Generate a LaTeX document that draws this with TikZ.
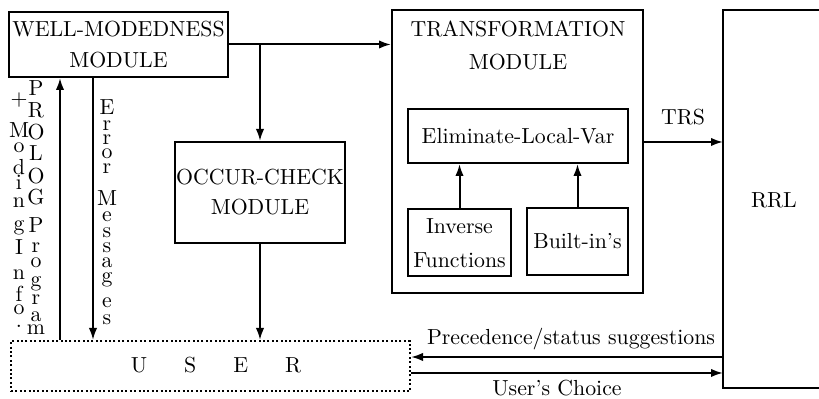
\documentclass[tikz,border=0pt]{standalone}
\usetikzlibrary{arrows.meta}
\begin{document}
\begin{tikzpicture}[x=0.5pt,y=-0.5pt,
  every node/.style={font=\fontsize{10.9}{13}\selectfont},
  box/.style={draw, line width=1pt, inner sep=0pt, align=center},
  ln/.style={line width=1pt},
  arr/.style={line width=1pt, -{Latex[length=6pt,width=4.2pt]}},
  letter/.style={anchor=base, inner sep=0pt},
  userbox/.style={draw, line width=1pt, dash pattern=on 1pt off 1.2pt, inner sep=0pt}]
\useasboundingbox (0,0) rectangle (819,399);

% boxes
\node[box, minimum width=109.5pt, minimum height=32.5pt,
      font=\fontsize{10.9}{15.5}\selectfont] (wm) at (118.5,44.5) {WELL-MODEDNESS\\MODULE};
\node[box, minimum width=85pt, minimum height=50.5pt,
      font=\fontsize{10.9}{15}\selectfont] (oc) at (260,192.5) {OCCUR-CHECK\\MODULE};
\node[box, minimum width=125.5pt, minimum height=141.5pt] (tm) at (517.5,151.5) {};
\node[inner sep=0pt, align=center, font=\fontsize{10.9}{16.5}\selectfont] (tmt) at (518,45) {TRANSFORMATION\\MODULE};
\node[box, minimum width=110pt, minimum height=27pt] (elv) at (518,136) {Eliminate-Local-Var};
\node[box, minimum width=51.5pt, minimum height=33.5pt,
      font=\fontsize{10.9}{17}\selectfont] (inv) at (459.5,243) {Inverse\\Functions};
\node[box, minimum width=50.5pt, minimum height=33.5pt] (bi) at (577.5,241.5) {Built-in's};
\node[userbox, minimum width=199.5pt, minimum height=25pt] (user) at (210.5,366) {};
\node[letter] (usertext) at (216,373) {U\hspace{18.5pt}S\hspace{18.5pt}E\hspace{18.5pt}R};

% RRL (open to the right)
\coordinate (rrlA) at (840,10);
\coordinate (rrlB) at (723,10);
\coordinate (rrlC) at (723,388);
\coordinate (rrlD) at (840,388);
\draw[ln] (rrlA) -- (rrlB) -- (rrlC) -- (rrlD);
\node[letter] (rrl) at (774,208) {RRL};

% connectors
\draw[arr] (wm.east) -- (wm.east -| tm.west);
\draw[arr] (oc.north |- wm.east) -- (oc.north);
\draw[arr] (oc.south) -- (oc.south |- user.north);
\draw[arr] (inv.north) -- (inv.north |- elv.south);
\draw[arr] (bi.north) -- (bi.north |- elv.south);

\coordinate (upx) at (60,0);
\coordinate (dnx) at (93,0);
\draw[arr] (user.north -| upx) -- (wm.south -| upx);
\draw[arr] (wm.south -| dnx) -- (user.north -| dnx);

\coordinate (trsIn) at (723,142);
\draw[arr] (tm.east |- trsIn) -- (trsIn);
\node[letter] (trs) at (683,125) {TRS};

\coordinate (precOut) at (723,357);
\draw[arr] (precOut) -- (precOut -| user.east);
\node[letter] (prec) at (571,345) {Precedence/status suggestions};

\coordinate (choiceIn) at (723,373);
\draw[arr] (choiceIn -| user.east) -- (choiceIn);
\node[letter] (choice) at (557,396) {User's Choice};

% vertical labels
\foreach \c/\yy [count=\i] in {{+}/106, M/138, o/153, d/175, i/190, n/208, g/231, I/255, n/280, f/302, o/315, {.}/328}
  \node[letter] (mod\i) at (19,\yy) {\c};
\foreach \c/\yy [count=\i] in {P/96, R/118, O/140, L/161, O/184, G/205, P/233, r/253, o/268, g/287, r/305, a/322, m/335}
  \node[letter] (pro\i) at (36,\yy) {\c};
\foreach \c/\yy [count=\i] in {E/115, r/131, r/145, o/159, r/174, M/206, e/222, s/238, s/253, a/268, g/283, e/308, s/325}
  \node[letter] (err\i) at (107,\yy) {\c};
\end{tikzpicture}
\end{document}
